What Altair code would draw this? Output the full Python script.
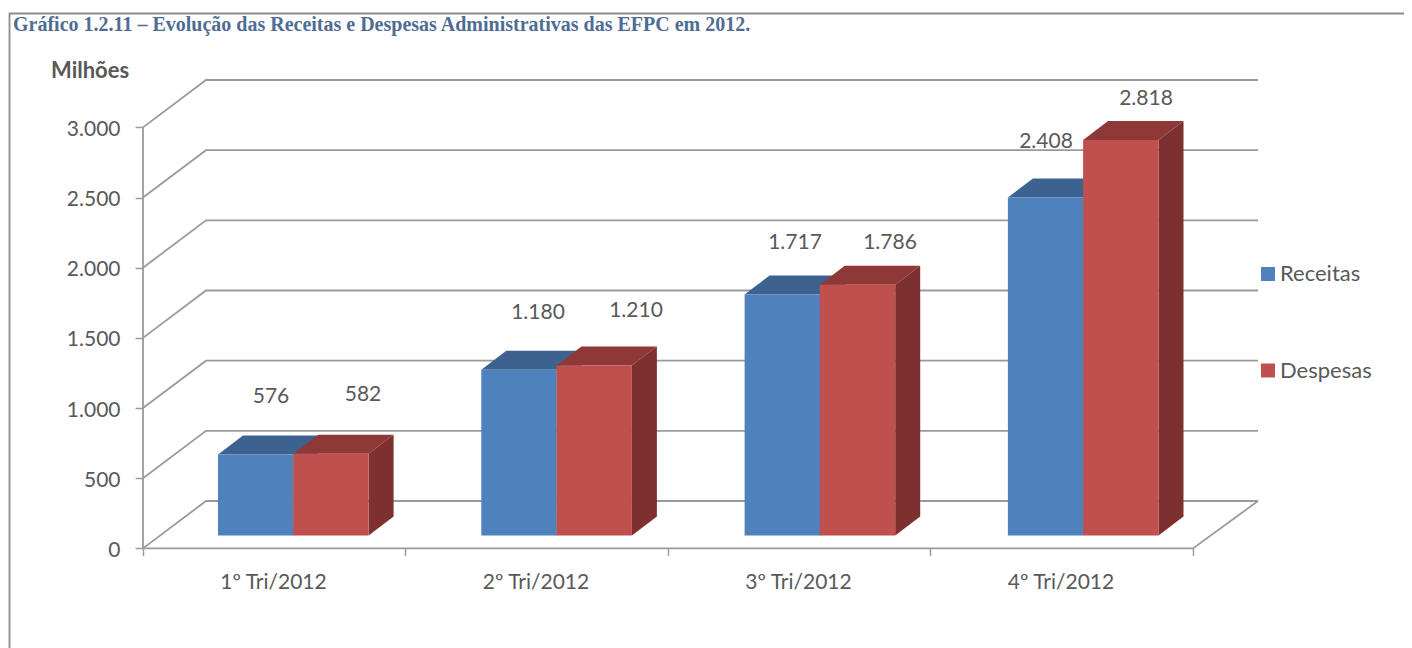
import altair as alt
import pandas as pd

# ---- chart values
quarters = ["1º Tri/2012", "2º Tri/2012", "3º Tri/2012", "4º Tri/2012"]
receitas = [576, 1180, 1717, 2408]
despesas = [582, 1210, 1786, 2818]
y_ticks = [0, 500, 1000, 1500, 2000, 2500, 3000]
x_ticks = [0, 1, 2, 3, 4]
title_text = "Gráfico 1.2.11 – Evolução das Receitas e Despesas Administrativas das EFPC em 2012."
unit_text = "Milhões"

# ---- layout (pixel sizes converted to scale units)
W, H = 1396, 640
PX_X = 262.5          # px per category
PX_Y = 421 / 3000     # px per unit of value
X0, Y0 = 143 - 8, 548.4 - 8
ux = lambda px: px / PX_X
uy = lambda px: px / PX_Y
x_dom = [ux(-X0), ux(W - X0)]
y_dom = [uy(Y0 - H), uy(Y0)]
x_scale = alt.Scale(domain=x_dom, range=[0, W], nice=False, zero=False)
y_scale = alt.Scale(domain=y_dom, range=[H, 0], nice=False, zero=False)

GREY = "#9a9a9a"
TEXT = "#595959"
FONT = "Lato"
FS = 21
BLUE, BLUE_TOP = "#4F81BD", "#3C6390"
RED, RED_TOP, RED_SIDE = "#C0504D", "#8E3937", "#7D302E"

wall_dx, wall_dy = ux(63), uy(47.4)
bar_dx, bar_dy = ux(25), uy(19)
bar_base = uy(13)
bar_w = ux(75.4)
bar_off = ux(75.2)
bar_step = 263.3 / PX_X

x_axis = alt.Axis(
    values=x_ticks, title=None, grid=False, domain=False,
    offset=-(H - Y0), tickSize=7, tickWidth=1.5, tickColor=GREY,
    labelFont=FONT, labelFontSize=FS, labelColor=TEXT, labelPadding=16,
    labelOffset=130, labelExpr="datum.value < 4 ? " + repr(quarters) + "[datum.value] : ''",
    labelFlush=False, labelOverlap=False,
)
y_axis = alt.Axis(
    values=y_ticks, title=None, grid=False, domain=False,
    offset=-X0, tickSize=8, tickWidth=1.5, tickColor=GREY,
    labelFont=FONT, labelFontSize=FS, labelColor=TEXT, labelPadding=15,
    labelOffset=2,
    labelExpr="replace(format(datum.value, ','), ',', '.')",
    labelOverlap=False,
)


def ex(field="x", **kw):
    return alt.X(f"{field}:Q", scale=x_scale, axis=x_axis, **kw)


def ey(field="y", **kw):
    return alt.Y(f"{field}:Q", scale=y_scale, axis=y_axis, **kw)


# ---- walls and floor
rows = []
for v in y_ticks:
    rows += [
        dict(g=v, o=0, x=0, y=v),
        dict(g=v, o=1, x=wall_dx, y=v + wall_dy),
        dict(g=v, o=2, x=ux(1258 - 143), y=v + wall_dy),
    ]
rows += [
    dict(g=-1, o=0, x=0, y=0), dict(g=-1, o=1, x=0, y=3000),
    dict(g=-2, o=0, x=0, y=0), dict(g=-2, o=1, x=4, y=0),
    dict(g=-2, o=2, x=ux(1258 - 143), y=wall_dy),
]
grid = (
    alt.Chart(pd.DataFrame(rows))
    .mark_line(color=GREY, strokeWidth=1.8, interpolate="linear")
    .encode(x=ex(), y=ey(), detail="g:N", order="o:Q")
)

# ---- 3-D bars
front, tops, sides = [], [], []
for s, (name, vals) in enumerate([("Receitas", receitas), ("Despesas", despesas)]):
    for i, v in enumerate(vals):
        a = i * bar_step + ux(75) + s * bar_off
        b = a + bar_w
        t = v + bar_base
        front.append(dict(serie=name, a=a, b=b, y0=bar_base, y1=t))
        tops += [dict(serie=name, g=i, y=t, a=a, b=b),
                 dict(serie=name, g=i, y=t + bar_dy, a=a + bar_dx, b=b + bar_dx)]
        sides += [dict(serie=name, g=i, x=b, y0=bar_base, y1=t),
                  dict(serie=name, g=i, x=b + bar_dx, y0=bar_base + bar_dy, y1=t + bar_dy)]
front, tops, sides = map(pd.DataFrame, (front, tops, sides))


def top(name, color):
    return (
        alt.Chart(tops[tops.serie == name])
        .mark_area(orient="horizontal", color=color, interpolate="linear")
        .encode(x=ex("a", stack=None), x2="b:Q", y=ey(), detail="g:N")
    )


def side(name, color):
    return (
        alt.Chart(sides[sides.serie == name])
        .mark_area(orient="vertical", color=color, interpolate="linear")
        .encode(x=ex(), y=ey("y0", stack=None), y2="y1:Q", detail="g:N")
    )


fronts = (
    alt.Chart(front)
    .mark_rect()
    .encode(
        x=ex("a"), x2="b:Q",
        y=ey("y0"), y2="y1:Q",
        color=alt.Color("serie:N", scale=alt.Scale(domain=["Receitas", "Despesas"], range=[BLUE, RED]),
                        legend=alt.Legend(
                            title=None, orient="none", legendX=1249, legendY=255,
                            symbolType="square", symbolSize=196, symbolStrokeWidth=0,
                            labelFont=FONT, labelFontSize=22, labelColor=TEXT,
                            rowPadding=74.5, labelOffset=1,
                        )),
    )
)

# ---- value labels (hand placed in the source chart)
label_cx = [271, 363, 538, 636, 795, 890, 1046, 1146]
label_cy = [397, 395, 313, 311, 243, 243, 142, 99]
label_vals = [v for pair in zip(receitas, despesas) for v in pair]
labels = pd.DataFrame({
    "x": [ux(c - 143) for c in label_cx],
    "y": [uy(548.4 - c) for c in label_cy],
    "t": [f"{v:,}".replace(",", ".") for v in label_vals],
})
value_text = (
    alt.Chart(labels)
    .mark_text(font=FONT, fontSize=FS, color=TEXT, align="center", baseline="middle")
    .encode(x=ex(), y=ey(), text="t:N")
)

# ---- unit label, frame, heading
unit = (
    alt.Chart(pd.DataFrame({"x": [ux(51 - 143)], "y": [uy(548.4 - 71)], "t": [unit_text]}))
    .mark_text(font=FONT, fontSize=22, fontWeight="bold", color=TEXT, align="left", baseline="middle")
    .encode(x=ex(), y=ey(), text="t:N")
)
frame = (
    alt.Chart(pd.DataFrame({
        "x": [ux(1404 - 143), ux(9.5 - 143), ux(9.5 - 143)],
        "y": [uy(548.4 - 13.5), uy(548.4 - 13.5), uy(548.4 - 648)],
        "o": [0, 1, 2],
    }))
    .mark_line(color="#8c8c8c", strokeWidth=1.8)
    .encode(x=ex(), y=ey(), order="o:Q")
)
heading = (
    alt.Chart(pd.DataFrame({"x": [ux(13 - 143)], "y": [uy(548.4 - 31)], "t": [title_text]}))
    .mark_text(font="Liberation Serif", fontSize=20, fontWeight="bold", color="#4F6D94",
               align="left", baseline="alphabetic")
    .encode(x=ex(), y=ey(), text="t:N")
)

chart = alt.layer(
    frame, grid,
    top("Receitas", BLUE_TOP), side("Receitas", BLUE),
    top("Despesas", RED_TOP), side("Despesas", RED_SIDE),
    fronts, value_text, unit, heading,
).properties(
    width=W, height=H,
    autosize=alt.AutoSizeParams(type="none"),
    padding=0,
    background="white",
).configure_view(stroke=None)

chart.save("out.html", embed_options={"renderer": "svg", "actions": False})
